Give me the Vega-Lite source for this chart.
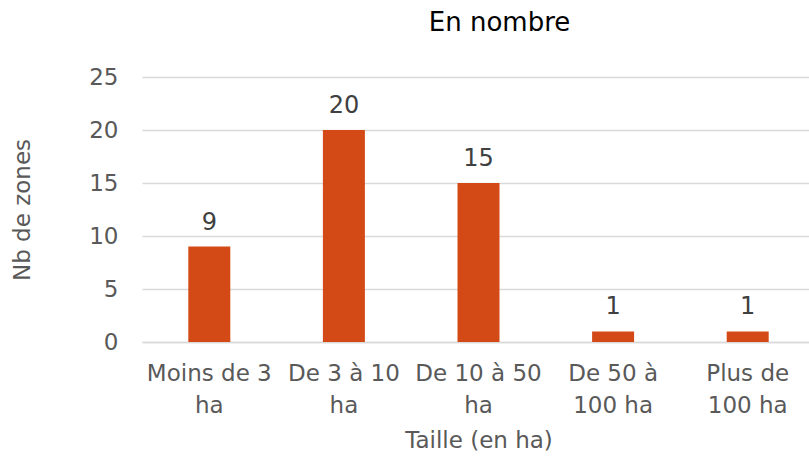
{
  "$schema": "https://vega.github.io/schema/vega-lite/v6.json",
  "autosize": {"type": "none"},
  "width": 673,
  "height": 265,
  "padding": {"left": 142, "top": 77, "right": 0, "bottom": 117},
  "background": "white",
  "config": {
    "view": {"stroke": null},
    "font": "DejaVu Sans"
  },
  "title": {
    "text": "En nombre",
    "fontSize": 26,
    "fontWeight": "normal",
    "color": "#000000",
    "anchor": "middle",
    "dx": 21,
    "offset": 30,
    "font": "DejaVu Sans"
  },
  "data": {
    "values": [
      {"taille": "Moins de 3 ha", "nb": 9},
      {"taille": "De 3 à 10 ha", "nb": 20},
      {"taille": "De 10 à 50 ha", "nb": 15},
      {"taille": "De 50 à 100 ha", "nb": 1},
      {"taille": "Plus de 100 ha", "nb": 1}
    ]
  },
  "encoding": {
    "x": {
      "field": "taille",
      "type": "nominal",
      "sort": null,
      "scale": {"paddingInner": 0, "paddingOuter": 0},
      "axis": {
        "title": "Taille (en ha)",
        "titleFontSize": 23,
        "titleFontWeight": "normal",
        "titleColor": "#595959",
        "titlePadding": 12,
        "labelAngle": 0,
        "labelFontSize": 23,
        "labelColor": "#595959",
        "labelPadding": 20,
        "labelLineHeight": 32,
        "labelExpr": "{'Moins de 3 ha': ['Moins de 3', 'ha'], 'De 3 à 10 ha': ['De 3 à 10', 'ha'], 'De 10 à 50 ha': ['De 10 à 50', 'ha'], 'De 50 à 100 ha': ['De 50 à', '100 ha'], 'Plus de 100 ha': ['Plus de', '100 ha']}[datum.label]",
        "ticks": false,
        "domainColor": "#d9d9d9",
        "domainWidth": 1.5,
        "labelOverlap": false
      }
    },
    "y": {
      "field": "nb",
      "type": "quantitative",
      "scale": {"domain": [0, 25]},
      "axis": {
        "title": "Nb de zones",
        "titleFontSize": 23,
        "titleFontWeight": "normal",
        "titleColor": "#595959",
        "titlePadding": 54,
        "values": [0, 5, 10, 15, 20, 25],
        "labelFontSize": 23,
        "labelColor": "#595959",
        "labelPadding": 24,
        "ticks": false,
        "domain": false,
        "gridColor": "#d9d9d9",
        "gridWidth": 1.5
      }
    }
  },
  "layer": [
    {"mark": {"type": "bar", "color": "#D34A17", "size": 42}},
    {
      "mark": {"type": "text", "baseline": "bottom", "dy": -12, "fontSize": 24, "color": "#404040"},
      "encoding": {"text": {"field": "nb", "type": "quantitative"}}
    }
  ]
}
